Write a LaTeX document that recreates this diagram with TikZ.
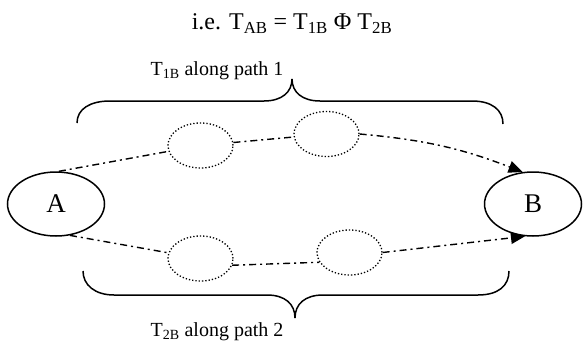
\documentclass[tikz,border=0pt]{standalone}
\usepackage{fontspec}
\setmainfont{Liberation Serif}
\usetikzlibrary{arrows.meta,shapes.geometric}
\tikzset{
  endnode/.style={draw, ellipse, line width=1.5pt, minimum width=97pt, minimum height=64pt, inner sep=0pt, font=\fontsize{27}{30}\selectfont},
  midnode/.style={draw, ellipse, dotted, line width=1.3pt, minimum width=65pt, minimum height=45pt, inner sep=0pt},
  conn/.style={line width=1.4pt, dash pattern=on 7pt off 4pt on 2pt off 4pt},
  arr/.style={conn, -{Triangle[length=14pt,width=12pt]}},
  bracestyle/.style={line width=1.5pt},
  lbl/.style={anchor=base, inner sep=0pt, font=\fontsize{20}{22}\selectfont},
}
\begin{document}
\begin{tikzpicture}[x=1pt,y=-1pt]
\useasboundingbox (0,0) rectangle (584,348);
\node[anchor=base, inner sep=0pt, font=\fontsize{24}{27}\selectfont] (title) at (292,30) {i.e. T\textsubscript{AB} = T\textsubscript{1B} Φ T\textsubscript{2B}};
\node[lbl] (l1) at (217,75) {T\textsubscript{1B} along path 1};
\node[lbl] (l2) at (217,336) {T\textsubscript{2B} along path 2};
\node[endnode] (A) at (56,204) {A};
\node[endnode] (B) at (533,204) {B};
\node[midnode] (c1) at (200.5,145.5) {};
\node[midnode] (c2) at (326.5,134) {};
\node[midnode] (c3) at (200.5,258.5) {};
\node[midnode] (c4) at (349.5,252.5) {};
% top path
\draw[conn] (A.85) -- (c1);
\draw[conn] (c1) -- (c2);
\draw[arr] (c2.east) to[bend left=8] (B.108);
% bottom path
\draw[conn] (A.-66) -- (c3);
\draw[conn] (c3.-12) -- (c4.198);
\draw[arr] (c4.east) -- (B.-104);
% top brace
\draw[bracestyle] (77,123) .. controls (77,109) and (90,101) .. (110,101) -- (264,101) .. controls (282,101) and (292,92) .. (292,79)
  .. controls (292,92) and (302,101) .. (320,101) -- (472,101) .. controls (492,101) and (503,110) .. (503,124);
% bottom brace
\draw[bracestyle] (83,271) .. controls (83,285) and (95,295) .. (114,295) -- (267,295) .. controls (285,295) and (295,304) .. (295,318)
  .. controls (295,304) and (305,295) .. (323,295) -- (478,295) .. controls (498,295) and (509,286) .. (509,271);
\end{tikzpicture}
\end{document}
